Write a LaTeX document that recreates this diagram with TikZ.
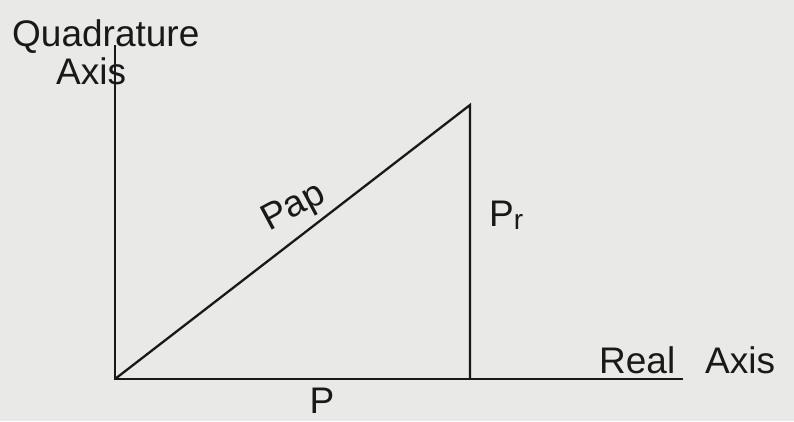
\documentclass[tikz,border=0pt]{standalone}
\usepackage{fontspec}
\setmainfont{Liberation Sans}
\usepackage{xcolor}
\usepackage{tikz}
\usetikzlibrary{positioning, calc}
\definecolor{paperbg}{RGB}{233, 233, 231}
\definecolor{inkline}{RGB}{25, 25, 25}

\tikzset{
    axisline/.style={draw=inkline, line width=2.3pt},
    handlabel/.style={text=inkline, inner sep=0pt, font=\fontsize{37}{40}\selectfont}
}

\begin{document}
\begin{tikzpicture}[x=1pt, y=-1pt]
    \fill[paperbg] (0,0) rectangle (794,421);
    \useasboundingbox (0,0) rectangle (794,421);

    % axes and triangle corners
    \coordinate (origin) at (115,379);
    \coordinate (qtop) at (115,45);
    \coordinate (rend) at (683,379);
    \coordinate (apex) at (470,105);
    \coordinate (foot) at (470,379);

    \draw[axisline] (qtop) -- (origin) -- (rend);
    \draw[axisline] (origin) -- (apex) -- (foot);

    % labels
    \node[handlabel, anchor=base west] (quadlbl) at (12,46) {Quadrature};
    \node[handlabel, anchor=base west] (quadaxis) at (56,84) {Axis};
    \node[handlabel, rotate=28] (paplbl) at (294,208) {Pap};
    \node[handlabel, anchor=base west] (prlbl) at (489,226) {P\raisebox{-3pt}{\fontsize{28}{30}\selectfont r}};
    \node[handlabel, anchor=base] (plbl) at (322,413) {P};
    \node[handlabel, anchor=base west] (reallbl) at (599,373) {Real};
    \node[handlabel, anchor=base west] (realaxis) at (705,373) {Axis};
\end{tikzpicture}
\end{document}
